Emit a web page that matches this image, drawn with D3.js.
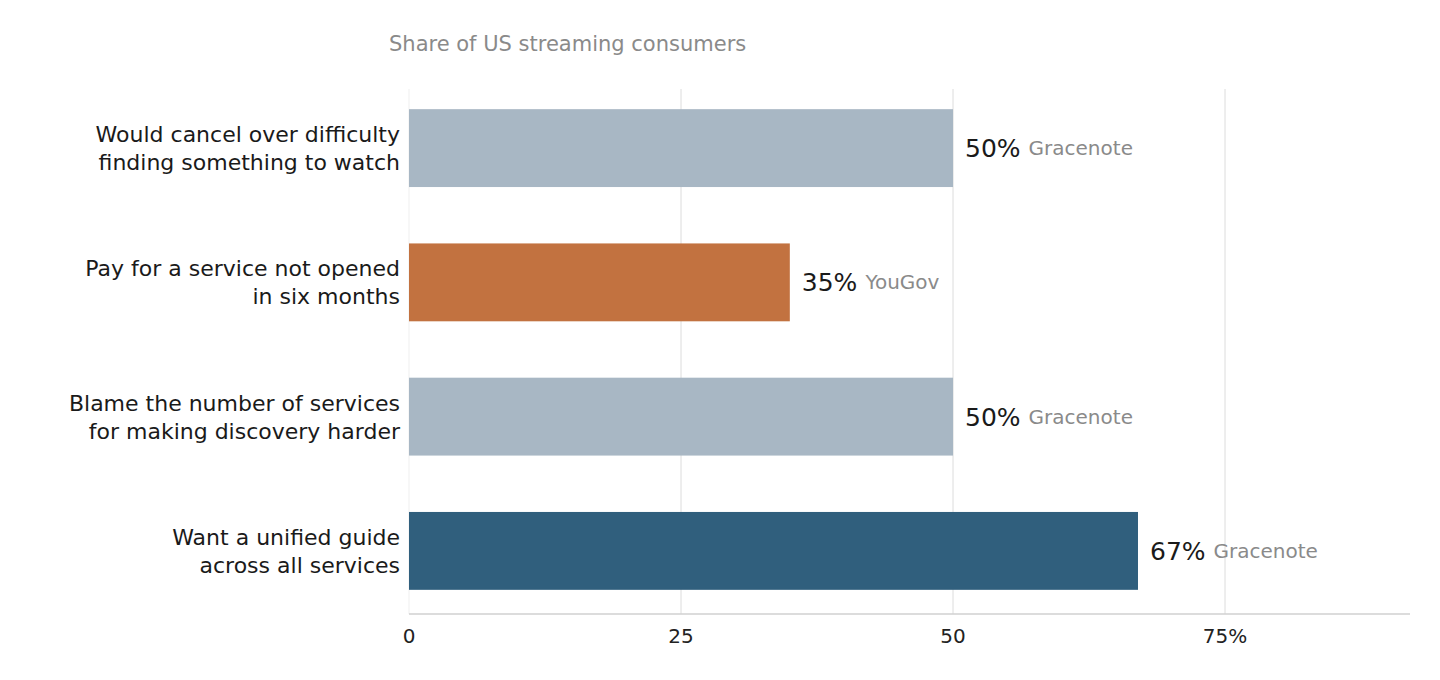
<!DOCTYPE html>
<html><head><meta charset="utf-8">
<script src="https://cdn.jsdelivr.net/npm/d3@7"></script>
<style>body{margin:0;background:#fff;font-family:"DejaVu Sans",sans-serif}</style>
</head><body><div id="c"></div>
<script>
const data = [
  {lines:['Would cancel over difficulty','finding something to watch'], v:50, src:'Gracenote', color:'#a8b7c4'},
  {lines:['Pay for a service not opened','in six months'], v:35, src:'YouGov', color:'#c27240'},
  {lines:['Blame the number of services','for making discovery harder'], v:50, src:'Gracenote', color:'#a8b7c4'},
  {lines:['Want a unified guide','across all services'], v:67, src:'Gracenote', color:'#305f7d'},
];
const W = 1440, H = 680, L = 409, R = 1410, T = 85, B = 614;
const svg = d3.select('#c').append('svg').attr('width', W).attr('height', H);
const x = d3.scaleLinear().domain([0, 92]).range([L, R]);
const y = d3.scaleBand().domain(d3.range(data.length)).range([T, B]).paddingInner(0.42).paddingOuter(0.18);

svg.append('g').selectAll('line').data([0, 25, 50, 75]).join('line')
  .attr('x1', d => x(d)).attr('x2', d => x(d)).attr('y1', 89).attr('y2', B)
  .attr('stroke', d => d === 0 ? '#f4f4f4' : '#e8e8e8').attr('stroke-width', 1.5);

svg.append('line').attr('x1', L).attr('x2', R).attr('y1', B).attr('y2', B).attr('stroke', '#d0d0d0').attr('stroke-width', 1.5);

svg.append('g').selectAll('text').data([0, 25, 50, 75]).join('text')
  .attr('x', d => x(d)).attr('y', 643).attr('text-anchor', 'middle')
  .style('font-size', '20px').style('fill', '#222')
  .text(d => d === 75 ? '75%' : d);

svg.append('text').attr('x', 389).attr('y', 51).style('font-size', '21px').style('fill', '#8a8a8a')
  .text('Share of US streaming consumers');

const g = svg.append('g').selectAll('g').data(data).join('g');
g.append('rect').attr('x', x(0)).attr('y', (d, i) => y(i)).attr('height', y.bandwidth())
  .attr('width', d => x(d.v) - x(0)).attr('fill', d => d.color);
g.each(function(d, i) {
  const cy = y(i) + y.bandwidth() / 2;
  const s = d3.select(this);
  const t = s.append('text').attr('x', 400).attr('text-anchor', 'end').style('font-size', '22px').style('fill', '#1a1a1a');
  d.lines.forEach((ln, k) => t.append('tspan').attr('x', 400).attr('y', cy - 6 + k * 28).text(ln));
  const vt = s.append('text').attr('x', x(d.v) + 12).attr('y', cy + 9).style('font-size', '25px').style('fill', '#1a1a1a').text(d.v + '%');
  const w = vt.node().getComputedTextLength();
  s.append('text').attr('x', x(d.v) + 12 + w + 8).attr('y', cy + 7).style('font-size', '20px').style('fill', '#8a8a8a').text(d.src);
});
</script></body></html>
